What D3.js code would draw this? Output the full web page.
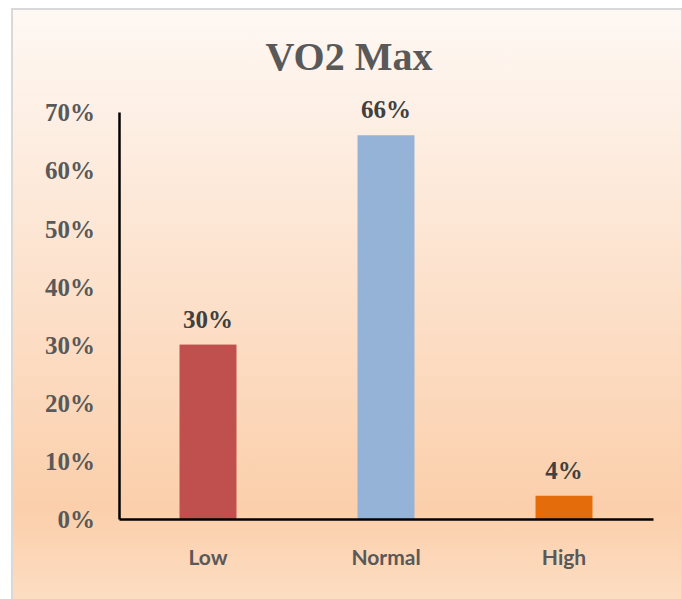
<!DOCTYPE html>
<html>
<head>
<meta charset="utf-8">
<script src="https://cdn.jsdelivr.net/npm/d3@7"></script>
<style>
  html, body { margin: 0; padding: 0; background: #fff; }
  svg { display: block; }
</style>
</head>
<body>
<svg id="chart" width="682" height="599"></svg>
<script>
const svg = d3.select("#chart");
const width = +svg.attr("width");
const height = +svg.attr("height");

// Data
const categories = ["Low", "Normal", "High"];
const values = [0.30, 0.66, 0.04];
const barColors = ["#c0504d", "#95b3d7", "#e46c0a"];
const yTicks = [0, 0.1, 0.2, 0.3, 0.4, 0.5, 0.6, 0.7];
const title = "VO2 Max";

// Background gradient
const defs = svg.append("defs");
const grad = defs.append("linearGradient")
  .attr("id", "bg")
  .attr("x1", 0).attr("y1", 0).attr("x2", 0).attr("y2", 1);
grad.append("stop").attr("offset", "0%").attr("stop-color", "#fef8f4");
grad.append("stop").attr("offset", "82%").attr("stop-color", "#fbcfab");
grad.append("stop").attr("offset", "100%").attr("stop-color", "#fde0c7");

// frame runs past the bottom edge, as in the reference
svg.append("rect")
  .attr("x", 12).attr("y", 9)
  .attr("width", width - 12).attr("height", height + 10)
  .attr("fill", "url(#bg)")
  .attr("stroke", "#d9d9d9")
  .attr("stroke-width", 2);

const margin = { left: 119, right: 29, top: 112, bottom: 80 };

const x = d3.scaleBand()
  .domain(categories)
  .range([margin.left, width - margin.right])
  .paddingInner(0.68)
  .paddingOuter(0.34);

const y = d3.scaleLinear()
  .domain([0, 0.7])
  .range([height - margin.bottom, margin.top]);

// Title
svg.append("text")
  .attr("x", 349)
  .attr("y", 70)
  .attr("text-anchor", "middle")
  .attr("font-family", "'Liberation Serif', 'Times New Roman', serif")
  .attr("font-weight", "bold")
  .attr("font-size", 40)
  .attr("fill", "#595959")
  .text(title);

// Bars
svg.append("g")
  .selectAll("rect")
  .data(values)
  .join("rect")
  .attr("x", (d, i) => x(categories[i]))
  .attr("y", d => y(d))
  .attr("width", x.bandwidth())
  .attr("height", d => y(0) - y(d))
  .attr("fill", (d, i) => barColors[i]);

// Data labels
svg.append("g")
  .selectAll("text")
  .data(values)
  .join("text")
  .attr("x", (d, i) => x(categories[i]) + x.bandwidth() / 2)
  .attr("y", d => y(d) - 17)
  .attr("text-anchor", "middle")
  .attr("font-family", "'Liberation Serif', 'Times New Roman', serif")
  .attr("font-weight", "bold")
  .attr("font-size", 25)
  .attr("fill", "#404040")
  .text(d => d3.format(".0%")(d));

// Y axis
const yAxis = svg.append("g")
  .attr("transform", `translate(${margin.left},0)`)
  .call(d3.axisLeft(y).tickValues(yTicks).tickFormat(d3.format(".0%")).tickSize(0).tickPadding(24));
yAxis.select(".domain").attr("stroke", "#000").attr("stroke-width", 2.5);
yAxis.selectAll("text")
  .attr("font-family", "'Liberation Serif', 'Times New Roman', serif")
  .attr("font-weight", "bold")
  .attr("font-size", 25)
  .attr("fill", "#595959")
  .attr("dy", "0.35em");

// X axis
const xAxis = svg.append("g")
  .attr("transform", `translate(0,${height - margin.bottom})`)
  .call(d3.axisBottom(x).tickSize(0).tickPadding(31));
xAxis.select(".domain").attr("stroke", "#000").attr("stroke-width", 2.5);
xAxis.selectAll("text")
  .attr("font-family", "Lato, 'Open Sans', sans-serif")
  .attr("font-weight", "bold")
  .attr("font-size", 21)
  .attr("fill", "#595959");
</script>
</body>
</html>
